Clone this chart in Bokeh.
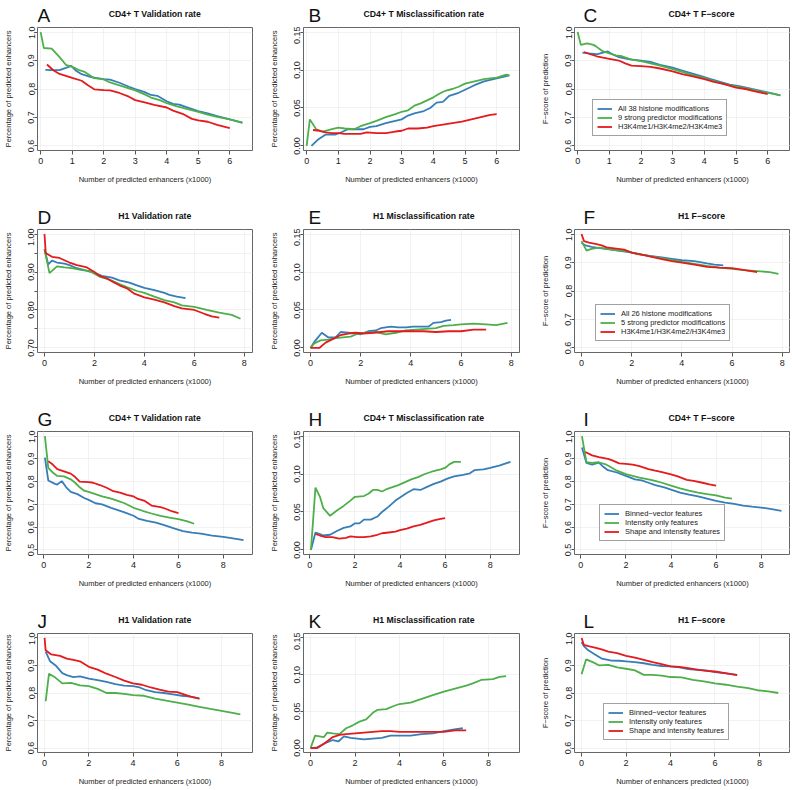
from bokeh.plotting import figure
from bokeh.models import Range1d, FixedTicker, Legend, LegendItem, NumeralTickFormatter
from bokeh.layouts import column, row
from bokeh.embed import file_html
from bokeh.resources import INLINE
from bokeh.core.properties import value

BLUE = "#377EB8"
GREEN = "#4DAF4A"
RED = "#E41A1C"
FONT = "Liberation Sans"

# ---------------- data (x in thousands of predicted enhancers) ----------------
# A: CD4+ T Validation rate (histone sets)
A_blue_x = [0.15, 0.35, 0.6, 0.8, 0.97, 1.1, 1.3, 1.6, 2.0, 2.2, 2.5, 2.8, 3.0, 3.3, 3.5, 3.7, 4.0, 4.2, 4.4, 4.6, 5.0, 5.3, 5.6, 6.0, 6.4]
A_blue_y = [0.867, 0.866, 0.866, 0.874, 0.881, 0.866, 0.852, 0.842, 0.835, 0.833, 0.822, 0.808, 0.800, 0.789, 0.779, 0.776, 0.757, 0.748, 0.745, 0.737, 0.722, 0.714, 0.705, 0.693, 0.682]
A_green_x = [0, 0.1, 0.35, 0.6, 0.8, 1.0, 1.2, 1.4, 1.7, 2.0, 2.2, 2.5, 2.8, 3.0, 3.3, 3.5, 3.8, 4.0, 4.3, 4.6, 5.0, 5.3, 5.6, 6.0, 6.4]
A_green_y = [1.0, 0.944, 0.942, 0.912, 0.885, 0.878, 0.867, 0.860, 0.838, 0.834, 0.823, 0.813, 0.802, 0.795, 0.781, 0.770, 0.760, 0.750, 0.740, 0.731, 0.720, 0.710, 0.702, 0.693, 0.681]
A_red_x = [0.2, 0.4, 0.6, 0.8, 1.0, 1.3, 1.5, 1.7, 2.0, 2.2, 2.5, 2.8, 3.0, 3.3, 3.6, 4.0, 4.2, 4.5, 4.8, 5.0, 5.3, 5.6, 6.0]
A_red_y = [0.886, 0.866, 0.853, 0.846, 0.839, 0.829, 0.813, 0.799, 0.796, 0.795, 0.786, 0.773, 0.761, 0.753, 0.744, 0.735, 0.724, 0.713, 0.695, 0.690, 0.685, 0.674, 0.663]

# B: CD4+ T Misclassification rate
B_blue_x = [0.15, 0.35, 0.6, 0.9, 1.1, 1.3, 1.6, 1.8, 2.0, 2.2, 2.5, 2.8, 3.0, 3.2, 3.4, 3.7, 3.9, 4.1, 4.3, 4.5, 4.8, 5.0, 5.3, 5.6, 6.0, 6.4]
B_blue_y = [0.0, 0.008, 0.015, 0.015, 0.018, 0.022, 0.022, 0.022, 0.025, 0.026, 0.030, 0.033, 0.035, 0.040, 0.043, 0.046, 0.050, 0.057, 0.058, 0.066, 0.070, 0.074, 0.080, 0.085, 0.089, 0.093]
B_green_x = [0, 0.1, 0.3, 0.5, 0.8, 1.0, 1.2, 1.5, 1.7, 2.0, 2.2, 2.5, 2.8, 3.0, 3.2, 3.4, 3.6, 3.8, 4.0, 4.2, 4.4, 4.6, 4.8, 5.0, 5.3, 5.6, 6.0, 6.3, 6.4]
B_green_y = [0.0, 0.035, 0.022, 0.019, 0.022, 0.024, 0.023, 0.022, 0.026, 0.030, 0.033, 0.038, 0.042, 0.045, 0.047, 0.053, 0.056, 0.060, 0.064, 0.069, 0.073, 0.075, 0.078, 0.082, 0.085, 0.088, 0.090, 0.094, 0.093]
B_red_x = [0.2, 0.4, 0.6, 0.8, 1.0, 1.2, 1.5, 1.7, 1.9, 2.2, 2.5, 2.8, 3.0, 3.2, 3.5, 3.8, 4.0, 4.3, 4.6, 4.9, 5.2, 5.5, 5.8, 6.0]
B_red_y = [0.021, 0.020, 0.018, 0.017, 0.017, 0.016, 0.016, 0.016, 0.018, 0.017, 0.017, 0.019, 0.020, 0.023, 0.023, 0.024, 0.026, 0.028, 0.030, 0.032, 0.035, 0.038, 0.041, 0.042]

# C: CD4+ T F-score
C_blue_x = [0.15, 0.35, 0.6, 0.8, 0.95, 1.1, 1.3, 1.6, 2.0, 2.3, 2.6, 3.0, 3.3, 3.6, 3.9, 4.2, 4.5, 4.8, 5.1, 5.5, 6.0, 6.4]
C_blue_y = [0.928, 0.925, 0.922, 0.928, 0.932, 0.922, 0.912, 0.905, 0.900, 0.895, 0.885, 0.875, 0.865, 0.855, 0.845, 0.835, 0.825, 0.815, 0.810, 0.800, 0.788, 0.778]
C_green_x = [0, 0.1, 0.3, 0.5, 0.6, 0.8, 1.0, 1.2, 1.4, 1.7, 2.0, 2.3, 2.6, 3.0, 3.3, 3.6, 4.0, 4.3, 4.6, 5.0, 5.4, 5.8, 6.2, 6.4]
C_green_y = [1.0, 0.955, 0.960, 0.955, 0.948, 0.932, 0.925, 0.918, 0.915, 0.903, 0.898, 0.890, 0.882, 0.870, 0.860, 0.850, 0.838, 0.828, 0.818, 0.808, 0.800, 0.790, 0.783, 0.778]
C_red_x = [0.2, 0.4, 0.6, 0.8, 1.0, 1.3, 1.5, 1.7, 2.0, 2.3, 2.6, 3.0, 3.3, 3.6, 4.0, 4.3, 4.6, 5.0, 5.3, 5.6, 6.0]
C_red_y = [0.930, 0.922, 0.915, 0.910, 0.906, 0.900, 0.890, 0.882, 0.880, 0.878, 0.872, 0.862, 0.852, 0.845, 0.835, 0.825, 0.818, 0.805, 0.800, 0.792, 0.782]

# D: H1 Validation rate
D_blue_x = [0.0, 0.15, 0.3, 0.5, 0.8, 1.0, 1.3, 1.6, 2.0, 2.3, 2.7, 3.0, 3.4, 3.7, 4.0, 4.4, 4.8, 5.0, 5.3, 5.65]
D_blue_y = [0.960, 0.920, 0.930, 0.925, 0.922, 0.918, 0.910, 0.905, 0.898, 0.890, 0.885, 0.878, 0.872, 0.865, 0.858, 0.852, 0.845, 0.840, 0.835, 0.831]
D_green_x = [0.0, 0.2, 0.5, 0.8, 1.1, 1.5, 1.8, 2.2, 2.6, 3.0, 3.3, 3.7, 4.0, 4.4, 4.8, 5.2, 5.5, 6.0, 6.5, 7.0, 7.5, 7.85]
D_green_y = [0.960, 0.897, 0.915, 0.912, 0.910, 0.905, 0.903, 0.888, 0.880, 0.868, 0.860, 0.850, 0.845, 0.835, 0.826, 0.820, 0.812, 0.808, 0.800, 0.793, 0.787, 0.777]
D_red_x = [0.0, 0.05, 0.3, 0.6, 1.0, 1.3, 1.7, 2.0, 2.2, 2.5, 2.8, 3.0, 3.3, 3.6, 4.0, 4.4, 4.8, 5.2, 5.5, 6.0, 6.4, 6.7, 7.0]
D_red_y = [1.0, 0.950, 0.940, 0.937, 0.925, 0.918, 0.912, 0.900, 0.890, 0.883, 0.872, 0.865, 0.857, 0.843, 0.833, 0.827, 0.820, 0.810, 0.804, 0.800, 0.790, 0.783, 0.780]

# E: H1 Misclassification rate
E_blue_x = [0, 0.15, 0.45, 0.7, 1.0, 1.2, 1.5, 1.8, 2.0, 2.3, 2.6, 2.8, 3.2, 3.5, 3.8, 4.1, 4.4, 4.7, 4.9, 5.2, 5.4, 5.6]
E_blue_y = [0.0, 0.008, 0.020, 0.014, 0.014, 0.021, 0.020, 0.019, 0.018, 0.022, 0.023, 0.026, 0.028, 0.027, 0.027, 0.028, 0.028, 0.028, 0.033, 0.034, 0.036, 0.037]
E_green_x = [0, 0.15, 0.4, 0.7, 1.0, 1.3, 1.6, 1.9, 2.2, 2.6, 3.0, 3.4, 3.8, 4.2, 4.6, 5.0, 5.3, 5.7, 6.0, 6.5, 7.0, 7.4, 7.85]
E_green_y = [0.0, 0.006, 0.010, 0.011, 0.013, 0.014, 0.015, 0.019, 0.020, 0.021, 0.018, 0.020, 0.023, 0.024, 0.025, 0.026, 0.029, 0.030, 0.031, 0.032, 0.031, 0.030, 0.033]
E_red_x = [0, 0.35, 0.6, 0.9, 1.2, 1.5, 1.8, 2.1, 2.5, 2.8, 3.1, 3.5, 4.0, 4.5, 5.0, 5.5, 6.0, 6.5, 7.0]
E_red_y = [0.0, 0.0, 0.007, 0.012, 0.017, 0.019, 0.020, 0.019, 0.020, 0.021, 0.022, 0.022, 0.022, 0.022, 0.021, 0.022, 0.022, 0.024, 0.024]

# F: H1 F-score
F_blue_x = [0, 0.15, 0.4, 0.8, 1.2, 1.6, 2.0, 2.4, 2.8, 3.2, 3.6, 4.0, 4.5, 5.0, 5.3, 5.65]
F_blue_y = [0.970, 0.960, 0.955, 0.950, 0.945, 0.940, 0.935, 0.928, 0.922, 0.918, 0.913, 0.908, 0.905, 0.897, 0.893, 0.890]
F_green_x = [0, 0.2, 0.4, 0.7, 1.0, 1.4, 1.8, 2.2, 2.6, 3.0, 3.5, 4.0, 4.5, 5.0, 5.5, 6.0, 6.5, 7.0, 7.5, 7.85]
F_green_y = [0.975, 0.942, 0.948, 0.952, 0.948, 0.943, 0.940, 0.930, 0.925, 0.918, 0.910, 0.902, 0.895, 0.888, 0.882, 0.878, 0.873, 0.870, 0.866, 0.860]
F_red_x = [0, 0.1, 0.3, 0.6, 0.8, 1.0, 1.3, 1.7, 2.0, 2.4, 2.8, 3.2, 3.6, 4.0, 4.5, 5.0, 5.5, 6.0, 6.5, 7.0]
F_red_y = [1.0, 0.975, 0.970, 0.965, 0.960, 0.953, 0.950, 0.945, 0.935, 0.928, 0.920, 0.912, 0.905, 0.900, 0.893, 0.885, 0.882, 0.880, 0.873, 0.866]

# G: CD4+ T Validation rate (feature sets)
G_blue_x = [0.05, 0.2, 0.5, 0.6, 0.8, 1.0, 1.2, 1.5, 1.8, 2.0, 2.3, 2.6, 3.0, 3.3, 3.6, 4.0, 4.2, 4.6, 5.0, 5.4, 5.8, 6.2, 6.6, 7.0, 7.5, 8.0, 8.5, 8.9]
G_blue_y = [0.905, 0.805, 0.790, 0.787, 0.802, 0.775, 0.755, 0.745, 0.728, 0.720, 0.705, 0.700, 0.685, 0.675, 0.665, 0.650, 0.638, 0.628, 0.620, 0.608, 0.595, 0.583, 0.576, 0.572, 0.563, 0.557, 0.550, 0.543]
G_green_x = [0.05, 0.2, 0.4, 0.6, 0.9, 1.2, 1.4, 1.6, 1.8, 2.0, 2.3, 2.6, 3.0, 3.3, 3.6, 4.0, 4.4, 4.8, 5.2, 5.6, 6.0, 6.4, 6.7]
G_green_y = [1.0, 0.860, 0.840, 0.825, 0.823, 0.810, 0.795, 0.775, 0.760, 0.755, 0.745, 0.735, 0.725, 0.715, 0.705, 0.685, 0.672, 0.660, 0.650, 0.642, 0.635, 0.625, 0.615]
G_red_x = [0.2, 0.4, 0.6, 0.9, 1.2, 1.4, 1.6, 2.0, 2.2, 2.5, 2.8, 3.1, 3.4, 3.7, 4.0, 4.2, 4.5, 4.8, 5.2, 5.4, 5.7, 6.0]
G_red_y = [0.890, 0.875, 0.855, 0.845, 0.835, 0.820, 0.800, 0.798, 0.795, 0.785, 0.773, 0.758, 0.752, 0.742, 0.735, 0.724, 0.715, 0.695, 0.688, 0.682, 0.670, 0.662]

# H: CD4+ T Misclassification rate (feature sets)
H_blue_x = [0.05, 0.25, 0.45, 0.6, 0.9, 1.2, 1.5, 1.8, 2.0, 2.2, 2.4, 2.7, 3.0, 3.2, 3.5, 3.8, 4.0, 4.3, 4.6, 4.9, 5.2, 5.5, 5.8, 6.1, 6.4, 6.8, 7.1, 7.3, 7.7, 8.0, 8.4, 8.9]
H_blue_y = [0.0, 0.023, 0.021, 0.019, 0.020, 0.025, 0.029, 0.031, 0.035, 0.035, 0.040, 0.040, 0.044, 0.050, 0.057, 0.065, 0.069, 0.075, 0.080, 0.079, 0.083, 0.087, 0.090, 0.094, 0.097, 0.099, 0.101, 0.105, 0.106, 0.108, 0.111, 0.116]
H_green_x = [0.05, 0.25, 0.45, 0.6, 0.9, 1.2, 1.5, 1.8, 2.0, 2.4, 2.6, 2.8, 3.0, 3.2, 3.4, 3.6, 3.9, 4.2, 4.5, 4.8, 5.1, 5.4, 5.8, 6.0, 6.2, 6.4, 6.7]
H_green_y = [0.0, 0.082, 0.070, 0.055, 0.045, 0.052, 0.058, 0.065, 0.070, 0.071, 0.074, 0.079, 0.079, 0.077, 0.080, 0.082, 0.085, 0.089, 0.093, 0.096, 0.100, 0.103, 0.106, 0.108, 0.113, 0.116, 0.116]
H_red_x = [0.25, 0.45, 0.7, 1.0, 1.3, 1.6, 1.8, 2.1, 2.4, 2.7, 3.0, 3.2, 3.5, 3.8, 4.0, 4.3, 4.6, 4.9, 5.2, 5.5, 5.8, 6.0]
H_red_y = [0.021, 0.019, 0.017, 0.017, 0.015, 0.016, 0.018, 0.017, 0.017, 0.018, 0.020, 0.022, 0.023, 0.024, 0.026, 0.028, 0.031, 0.033, 0.036, 0.039, 0.041, 0.042]

# I: CD4+ T F-score (feature sets)
I_blue_x = [0.05, 0.25, 0.5, 0.8, 1.0, 1.2, 1.6, 2.0, 2.4, 2.7, 3.0, 3.3, 3.7, 4.0, 4.4, 4.8, 5.2, 5.6, 6.0, 6.4, 6.8, 7.2, 7.6, 8.0, 8.4, 8.9]
I_blue_y = [0.950, 0.882, 0.875, 0.883, 0.865, 0.850, 0.840, 0.825, 0.810, 0.805, 0.795, 0.785, 0.775, 0.765, 0.752, 0.743, 0.735, 0.725, 0.715, 0.708, 0.702, 0.695, 0.690, 0.686, 0.680, 0.672]
I_green_x = [0.05, 0.25, 0.5, 0.8, 1.1, 1.3, 1.6, 2.0, 2.3, 2.6, 3.0, 3.3, 3.6, 4.0, 4.4, 4.8, 5.2, 5.6, 6.0, 6.4, 6.7]
I_green_y = [1.0, 0.885, 0.882, 0.885, 0.876, 0.865, 0.848, 0.833, 0.825, 0.818, 0.810, 0.803, 0.795, 0.782, 0.770, 0.760, 0.752, 0.745, 0.740, 0.730, 0.725]
I_red_x = [0.2, 0.5, 0.8, 1.2, 1.4, 1.7, 2.0, 2.3, 2.6, 3.0, 3.3, 3.6, 4.0, 4.3, 4.7, 5.0, 5.4, 5.7, 6.0]
I_red_y = [0.930, 0.915, 0.908, 0.900, 0.893, 0.880, 0.878, 0.875, 0.868, 0.855, 0.848, 0.842, 0.832, 0.823, 0.808, 0.803, 0.795, 0.788, 0.782]

# J: H1 Validation rate (feature sets)
J_blue_x = [0.05, 0.25, 0.5, 0.8, 1.0, 1.3, 1.6, 2.0, 2.4, 2.8, 3.2, 3.6, 4.0, 4.3, 4.6, 5.0, 5.4, 5.8, 6.2, 6.6, 7.0]
J_blue_y = [0.950, 0.915, 0.900, 0.872, 0.865, 0.858, 0.860, 0.852, 0.847, 0.840, 0.832, 0.827, 0.825, 0.820, 0.810, 0.803, 0.800, 0.795, 0.790, 0.787, 0.780]
J_green_x = [0.05, 0.2, 0.5, 0.8, 1.2, 1.6, 2.0, 2.4, 2.8, 3.2, 3.6, 4.0, 4.5, 5.0, 5.5, 6.0, 6.5, 7.0, 7.5, 8.0, 8.5, 8.85]
J_green_y = [0.770, 0.870, 0.855, 0.835, 0.837, 0.828, 0.825, 0.815, 0.800, 0.800, 0.797, 0.792, 0.790, 0.780, 0.772, 0.765, 0.758, 0.750, 0.742, 0.735, 0.728, 0.722]
J_red_x = [0, 0.05, 0.3, 0.7, 1.0, 1.3, 1.6, 2.0, 2.4, 2.8, 3.2, 3.6, 4.0, 4.4, 4.8, 5.2, 5.6, 6.0, 6.3, 6.6, 7.0]
J_red_y = [1.0, 0.955, 0.940, 0.935, 0.925, 0.920, 0.915, 0.895, 0.885, 0.870, 0.858, 0.845, 0.835, 0.830, 0.820, 0.812, 0.805, 0.803, 0.795, 0.787, 0.780]

# K: H1 Misclassification rate (feature sets)
K_blue_x = [0, 0.3, 0.6, 1.0, 1.25, 1.5, 1.8, 2.1, 2.4, 2.8, 3.2, 3.6, 4.0, 4.5, 5.0, 5.5, 6.0, 6.4, 6.85]
K_blue_y = [0.0, 0.001, 0.006, 0.011, 0.009, 0.016, 0.014, 0.013, 0.012, 0.013, 0.014, 0.017, 0.017, 0.017, 0.019, 0.020, 0.023, 0.025, 0.027]
K_green_x = [0, 0.2, 0.4, 0.6, 0.75, 1.0, 1.3, 1.6, 1.9, 2.2, 2.5, 2.8, 3.0, 3.4, 3.8, 4.0, 4.5, 5.0, 5.5, 6.0, 6.5, 7.0, 7.3, 7.7, 8.2, 8.5, 8.8]
K_green_y = [0.0, 0.017, 0.016, 0.015, 0.021, 0.020, 0.019, 0.027, 0.031, 0.036, 0.039, 0.048, 0.052, 0.053, 0.058, 0.060, 0.062, 0.067, 0.072, 0.077, 0.081, 0.085, 0.088, 0.093, 0.094, 0.097, 0.098]
K_red_x = [0, 0.3, 0.6, 1.0, 1.3, 1.6, 2.0, 2.4, 2.8, 3.2, 3.6, 4.0, 4.5, 5.0, 5.5, 6.0, 6.5, 7.0]
K_red_y = [0.0, 0.0, 0.006, 0.015, 0.018, 0.019, 0.020, 0.021, 0.022, 0.023, 0.023, 0.022, 0.022, 0.022, 0.022, 0.022, 0.024, 0.024]

# L: H1 F-score (feature sets)
L_blue_x = [0, 0.1, 0.3, 0.6, 0.9, 1.3, 1.7, 2.0, 2.4, 2.8, 3.2, 3.6, 4.0, 4.4, 4.8, 5.2, 5.6, 6.0, 6.4, 7.0]
L_blue_y = [0.985, 0.970, 0.955, 0.940, 0.925, 0.918, 0.917, 0.915, 0.912, 0.908, 0.902, 0.898, 0.897, 0.893, 0.887, 0.884, 0.882, 0.876, 0.872, 0.866]
L_green_x = [0, 0.2, 0.5, 0.8, 1.2, 1.6, 2.0, 2.4, 2.8, 3.2, 3.6, 4.0, 4.5, 5.0, 5.5, 6.0, 6.5, 7.0, 7.5, 7.9, 8.4, 8.85]
L_green_y = [0.868, 0.922, 0.912, 0.900, 0.902, 0.893, 0.888, 0.882, 0.866, 0.866, 0.863, 0.858, 0.857, 0.848, 0.842, 0.835, 0.830, 0.823, 0.818, 0.810, 0.806, 0.800]
L_red_x = [0, 0.1, 0.3, 0.6, 0.9, 1.2, 1.6, 2.0, 2.4, 2.8, 3.2, 3.6, 4.0, 4.4, 4.8, 5.2, 5.6, 6.0, 6.4, 7.0]
L_red_y = [1.0, 0.975, 0.970, 0.965, 0.958, 0.950, 0.945, 0.935, 0.928, 0.920, 0.912, 0.905, 0.897, 0.895, 0.890, 0.885, 0.880, 0.878, 0.873, 0.865]

# ---------------- texts / ticks ----------------
titles = ["CD4+ T Validation rate", "CD4+ T Misclassification rate", "CD4+ T F\u2212score",
          "H1 Validation rate", "H1 Misclassification rate", "H1 F\u2212score",
          "CD4+ T Validation rate", "CD4+ T Misclassification rate", "CD4+ T F\u2212score",
          "H1 Validation rate", "H1 Misclassification rate", "H1 F\u2212score"]
letters = ["A", "B", "C", "D", "E", "F", "G", "H", "I", "J", "K", "L"]
ylab_pct = "Percentage of predicted enhancers"
ylab_f = "F\u2212score of prediction"
xlab_main = "Number of predicted enhancers (x1000)"
xlab_alt = "Number of enhancers predicted (x1000)"
legend_hist_cd4 = ["All 38 histone modifications", "9 strong predictor modifications", "H3K4me1/H3K4me2/H3K4me3"]
legend_hist_h1 = ["All 26 histone modifications", "5 strong predictor modifications", "H3K4me1/H3K4me2/H3K4me3"]
legend_feat = ["Binned\u2212vector features", "Intensity only features", "Shape and intensity features"]

xt_6 = [0, 1, 2, 3, 4, 5, 6]
xt_8 = [0, 2, 4, 6, 8]
yt_06 = [0.6, 0.7, 0.8, 0.9, 1.0]
yt_05 = [0.5, 0.6, 0.7, 0.8, 0.9, 1.0]
yt_07 = [0.70, 0.80, 0.90, 1.00]
yt_07_minor = [0.75, 0.85, 0.95]
yt_mis = [0.0, 0.05, 0.10, 0.15]

series = {
    "A": [(A_blue_x, A_blue_y), (A_green_x, A_green_y), (A_red_x, A_red_y)],
    "B": [(B_blue_x, B_blue_y), (B_green_x, B_green_y), (B_red_x, B_red_y)],
    "C": [(C_blue_x, C_blue_y), (C_green_x, C_green_y), (C_red_x, C_red_y)],
    "D": [(D_blue_x, D_blue_y), (D_green_x, D_green_y), (D_red_x, D_red_y)],
    "E": [(E_blue_x, E_blue_y), (E_green_x, E_green_y), (E_red_x, E_red_y)],
    "F": [(F_blue_x, F_blue_y), (F_green_x, F_green_y), (F_red_x, F_red_y)],
    "G": [(G_blue_x, G_blue_y), (G_green_x, G_green_y), (G_red_x, G_red_y)],
    "H": [(H_blue_x, H_blue_y), (H_green_x, H_green_y), (H_red_x, H_red_y)],
    "I": [(I_blue_x, I_blue_y), (I_green_x, I_green_y), (I_red_x, I_red_y)],
    "J": [(J_blue_x, J_blue_y), (J_green_x, J_green_y), (J_red_x, J_red_y)],
    "K": [(K_blue_x, K_blue_y), (K_green_x, K_green_y), (K_red_x, K_red_y)],
    "L": [(L_blue_x, L_blue_y), (L_green_x, L_green_y), (L_red_x, L_red_y)],
}

# ---------------- layout geometry (pixels) ----------------
col_w = [264, 264, 262]
col_bl = [36, 39, 46]
col_br = [12, 9, 0]
FRAME_W = 216
letter_x = [0, 6, 11]
header_h = [26, 31, 35, 40]
main_bb = [47, 43, 38, 35]
frame_h = [123, 123, 123, 120]

xr_rows = [(-0.1, 6.72), (-0.28, 8.33), (-0.28, 9.3), (-0.32, 9.4)]
xt_rows = [xt_6, xt_8, xt_8, xt_8]
ycfg = {
    "A": ((0.584, 1.016), yt_06, None, "0.0"),
    "B": ((-0.006, 0.156), yt_mis, None, "0.00"),
    "C": ((0.584, 1.016), yt_06, None, "0.0"),
    "D": ((0.688, 1.012), yt_07, yt_07_minor, "0.00"),
    "E": ((-0.006, 0.156), yt_mis, None, "0.00"),
    "F": ((0.584, 1.016), yt_06, None, "0.0"),
    "G": ((0.48, 1.02), yt_05, None, "0.0"),
    "H": ((-0.006, 0.156), yt_mis, None, "0.00"),
    "I": ((0.48, 1.02), yt_05, None, "0.0"),
    "J": ((0.584, 1.016), yt_06, None, "0.0"),
    "K": ((-0.006, 0.156), yt_mis, None, "0.00"),
    "L": ((0.584, 1.016), yt_06, None, "0.0"),
}
legends = {"C": (legend_hist_cd4, (18, 14)), "F": (legend_hist_h1, (21, 11)),
           "I": (legend_feat, (25, 13)), "L": (legend_feat, (29, 12))}
colors = [BLUE, GREEN, RED]


def make_header(idx):
    r, c = divmod(idx, 3)
    w, h = col_w[c], header_h[r]
    p = figure(width=w, height=h, x_range=Range1d(0, w), y_range=Range1d(0, h),
               output_backend="svg", toolbar_location=None, tools="",
               x_axis_type=None, y_axis_type=None, min_border=0)
    p.outline_line_color = None
    p.background_fill_color = "white"
    p.border_fill_color = "white"
    # panel letter
    p.text(x=[letter_x[c]], y=[11], text=[letters[idx]], text_font=value(FONT),
           text_font_size=value("19px"), text_color="#111111",
           text_baseline="alphabetic", text_align="left")
    # panel title, centred over the plotting frame
    p.text(x=[col_bl[c] + FRAME_W / 2], y=[13], text=[titles[idx]], text_font=value(FONT),
           text_font_size=value("8.7px"), text_font_style=value("bold"), text_color="#111111",
           text_baseline="alphabetic", text_align="center")
    return p


def make_main(idx):
    r, c = divmod(idx, 3)
    letter = letters[idx]
    yr, yticks, yminor, fmt = ycfg[letter]
    height = 1 + frame_h[r] + main_bb[r]
    p = figure(width=col_w[c], height=height,
               x_range=Range1d(*xr_rows[r]), y_range=Range1d(*yr),
               output_backend="svg", toolbar_location=None, tools="",
               min_border_left=col_bl[c], min_border_right=col_br[c],
               min_border_top=1, min_border_bottom=main_bb[r])
    p.background_fill_color = "white"
    p.border_fill_color = "white"
    p.outline_line_color = "#666666"
    p.outline_line_width = 1

    p.xaxis.ticker = FixedTicker(ticks=xt_rows[r])
    p.xaxis.formatter = NumeralTickFormatter(format="0")
    if yminor:
        p.yaxis.ticker = FixedTicker(ticks=yticks, minor_ticks=yminor)
    else:
        p.yaxis.ticker = FixedTicker(ticks=yticks)
    p.yaxis.formatter = NumeralTickFormatter(format=fmt)

    p.xaxis.axis_label = xlab_alt if letter == "L" else xlab_main
    p.yaxis.axis_label = ylab_f if c == 2 else ylab_pct
    for ax in (p.xaxis, p.yaxis):
        ax.axis_line_color = None
        ax.major_tick_line_color = "#555555"
        ax.major_tick_in = 0
        ax.minor_tick_line_color = None
        ax.major_label_text_font = FONT
        ax.major_label_text_font_size = "9px"
        ax.major_label_text_color = "#222222"
        ax.axis_label_text_font = FONT
        ax.axis_label_text_font_size = "7.5px"
        ax.axis_label_text_font_style = "normal"
        ax.axis_label_text_color = "#222222"
    p.xaxis.major_tick_out = 4
    p.xaxis.major_label_standoff = 3
    p.xaxis.axis_label_standoff = 8
    p.yaxis.major_tick_out = 3
    p.yaxis.major_label_standoff = 0
    p.yaxis.axis_label_standoff = 13
    p.yaxis.major_label_orientation = "vertical"
    if yminor:
        p.yaxis.minor_tick_line_color = "#555555"
        p.yaxis.minor_tick_in = 0
        p.yaxis.minor_tick_out = 3
        p.ygrid.minor_grid_line_color = "#e4e4e4"
        p.ygrid.minor_grid_line_dash = "1 1"

    p.grid.grid_line_color = "#e4e4e4"
    p.grid.grid_line_dash = "1 1"

    renderers = []
    for (xs, ys), col in zip(series[letter], colors):
        renderers.append(p.line(xs, ys, line_color=col, line_width=1.8))

    if letter in legends:
        labels, loc = legends[letter]
        items = [LegendItem(label=lab, renderers=[rr]) for lab, rr in zip(labels, renderers)]
        lg = Legend(items=items, location=loc, orientation="vertical",
                    label_text_font=FONT, label_text_font_size="7.5px",
                    label_text_color="#222222",
                    glyph_width=15, glyph_height=9, label_height=9,
                    label_standoff=6, spacing=0, padding=4, margin=0,
                    border_line_color="#444444", border_line_width=1,
                    background_fill_color="white", background_fill_alpha=1.0)
        p.add_layout(lg)
    return p


cells = [column(make_header(i), make_main(i)) for i in range(12)]
layout = column(*[row(*cells[3 * k:3 * k + 3]) for k in range(4)])

open("out.html", "w").write(file_html(layout, INLINE))
